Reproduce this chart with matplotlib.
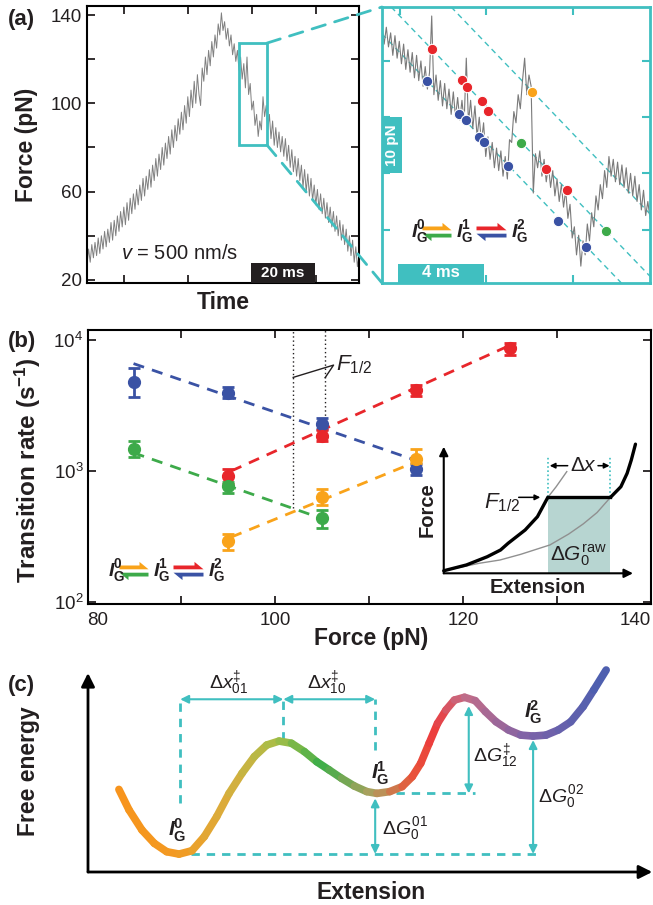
import numpy as np
import matplotlib
matplotlib.use("Agg")
import matplotlib.pyplot as plt
from matplotlib.patches import Rectangle, Polygon, ConnectionPatch
from matplotlib.collections import LineCollection
from matplotlib.colors import LinearSegmentedColormap, Normalize
from matplotlib.ticker import NullLocator

plt.rcParams["font.family"] = ["Liberation Sans", "DejaVu Sans"]
plt.rcParams["mathtext.fontset"] = "custom"
plt.rcParams["mathtext.rm"] = "Liberation Sans"
plt.rcParams["mathtext.sf"] = "Liberation Sans"
plt.rcParams["mathtext.it"] = "Liberation Sans:italic"
plt.rcParams["mathtext.bf"] = "Liberation Sans:bold"
plt.rcParams["mathtext.bfit"] = "Liberation Sans:bold:italic"

# ---------------- data ----------------
# (a) force ramp, one sample every 0.5 ms
ramp_dt = 0.5
ramp_force = [27, 34, 28, 36, 30, 37, 31, 39, 32, 40,
              34, 42, 35, 43, 37, 46, 38, 47, 40, 49,
              42, 51, 44, 53, 45, 55, 47, 57, 50, 59,
              52, 61, 54, 63, 56, 66, 58, 67, 61, 70,
              62, 72, 65, 75, 67, 77, 70, 80, 72, 82,
              75, 85, 77, 88, 80, 90, 83, 93, 86, 96,
              88, 99, 91, 103, 94, 106, 98, 110, 100, 113,
              104, 99, 116, 110, 121, 113, 124, 117, 128, 121,
              131, 125, 136, 131, 141, 133, 137, 129, 134, 126,
              131, 122, 127, 119, 124, 115, 121, 111, 118, 107,
              121, 104, 109, 97, 101, 90, 95, 85, 92, 88,
              103, 94, 99, 88, 95, 84, 92, 81, 89, 80,
              87, 78, 85, 76, 84, 74, 81, 71, 79, 69,
              76, 67, 75, 65, 72, 62, 70, 60, 68, 58,
              66, 56, 63, 54, 61, 52, 59, 50, 57, 48,
              55, 46, 53, 44, 51, 42, 49, 40, 47, 38,
              45, 36, 43, 33, 40, 31, 38, 28, 35, 26,
              31]

# (a) zoomed window, one sample every 0.1 ms
zoom_dt = 0.1
zoom_force = [121.5, 118, 121, 117.5, 120, 116, 119.5, 115.5, 118.5, 114.5,
              118, 113.5, 117, 113, 116.5, 112, 116, 111.5, 115, 110.5,
              114, 110, 113, 123, 109, 112.5, 108, 111.5, 107, 111,
              106.5, 110, 105.5, 109.5, 105, 108.5, 104.5, 108, 104, 115.5,
              104, 108, 103, 107, 101.5, 105, 100.5, 104, 98, 101.5,
              97.5, 100.5, 96, 99.5, 95.5, 99, 94.5, 98, 94, 101,
              100.5, 106, 104, 109, 106.5, 111.5, 115.5, 109, 112.5, 110.5,
              91.5, 98.5, 96, 99, 94.5, 97.5, 93.5, 96.5, 92.5, 95.5,
              91, 94, 90, 93, 89, 92, 87, 89.5, 83.5, 85.5,
              80.5, 84, 78.5, 83, 80.5, 86, 83, 88, 85.5, 91,
              88.5, 93, 90.5, 95.5, 92.5, 98, 94.5, 97.5, 93.5, 97,
              93, 96.5, 92.5, 96, 91.5, 95, 91, 94.5, 90, 93,
              88.5, 92, 87.5, 90, 87]

# transitions marked in the zoom (time ms, force pN)
ev_red_t = [2.30, 3.69, 3.92, 4.61, 4.89, 7.58, 8.55]
ev_red_f = [117.1, 111.6, 110.4, 107.9, 106.1, 95.8, 92.1]
ev_blue_t = [2.07, 3.56, 3.89, 4.51, 4.74, 5.82, 8.15, 9.46]
ev_blue_f = [111.5, 105.5, 104.5, 101.5, 100.5, 96.3, 86.6, 81.9]
ev_orange_t = [6.96]
ev_orange_f = [109.5]
ev_green_t = [6.44, 10.35]
ev_green_f = [100.4, 84.7]

# constant-trap-position guide lines in the zoom
guide_slope = -4.0          # pN/ms
guide_icpt = [137.4, 126.3, 119.8]

# (b) transition rates vs force
blue_F = [85, 95, 105, 115]
blue_k = [4800, 3970, 2300, 1030]
blue_lo = [3700, 3590, 2090, 927]
blue_hi = [6060, 4410, 2540, 1135]

red_F = [95, 105, 115, 125]
red_k = [910, 1860, 4150, 8700]
red_lo = [798, 1690, 3740, 7660]
red_hi = [1036, 2070, 4540, 9490]

green_F = [85, 95, 105]
green_k = [1480, 770, 440]
green_lo = [1280, 676, 366]
green_hi = [1690, 818, 507]

orange_F = [95, 105, 115]
orange_k = [290, 630, 1240]
orange_lo = [248, 549, 1156]
orange_hi = [331, 726, 1459]

# exponential fits (end points)
blue_fit_F, blue_fit_k = [84.9, 114.9], [6600, 1210]
red_fit_F, red_fit_k = [95.3, 124.6], [1000, 8850]
green_fit_F, green_fit_k = [84.9, 104.6], [1377, 443]
orange_fit_F, orange_fit_k = [95.3, 114.9], [313, 1170]

# F1/2 markers
f_half = [101.9, 105.3]
f_half_low = [520, 1970]

# (b) inset: schematic force-extension curve
fold_x = [0.0, 0.12, 0.23, 0.30, 0.34, 0.43, 0.495, 0.55]
fold_y = [0.02, 0.066, 0.131, 0.184, 0.237, 0.342, 0.447, 0.60]
fold_cont_x = [0.55, 0.594, 0.650]
fold_cont_y = [0.60, 0.684, 0.803]
unfold_x = [0.0, 0.187, 0.297, 0.407, 0.561, 0.66, 0.737, 0.81, 0.881]
unfold_y = [0.02, 0.079, 0.105, 0.150, 0.224, 0.31, 0.39, 0.48, 0.60]
unfold_steep_x = [0.881, 0.936, 0.969, 0.991, 1.013]
unfold_steep_y = [0.60, 0.684, 0.79, 0.895, 1.02]
plateau_F = 0.60

# (c) energy landscape (extension, free energy; arbitrary units)
land_x = [5.5, 7.3, 9.6, 11.8, 14.0, 16.2, 18.5, 20.7, 22.9, 25.1, 27.4,
          29.6, 31.8, 34.0, 36.2, 38.5, 40.7, 42.9, 45.1, 47.4, 49.6, 51.4,
          53.7, 55.9, 57.7, 59.2, 60.7, 62.2, 63.7, 65.2, 67.0, 68.9, 70.7,
          72.6, 74.8, 77.0, 79.2, 81.5, 83.7, 85.9, 88.1, 90.0, 92.2]
land_E = [41.5, 31.2, 21.1, 14.4, 10.2, 9.0, 10.7, 17.8, 27.8, 39.5, 49.6,
          58.0, 63.8, 65.8, 64.7, 60.5, 55.4, 51.3, 47.1, 43.2, 40.4, 39.5,
          40.4, 42.9, 47.9, 54.6, 64.7, 74.7, 81.4, 86.4, 87.8, 86.1, 80.6,
          75.5, 71.4, 68.8, 68.3, 68.8, 71.4, 75.5, 83.1, 91.5, 101.5]
land_stop_x = [5.5, 16.0, 25.0, 34.0, 42.0, 51.0, 58.0, 62.0, 67.0, 79.0, 92.2]
land_stop_c = ["#f7941d", "#f39a22", "#d9ae3e", "#a6be48", "#3fae49",
               "#b0a060", "#e8553a", "#ec3b3d", "#c46d86", "#7d62a8", "#4a5fb0"]

CYAN = "#40bfc0"
INK = "#231f20"
C_BLUE, C_RED, C_GREEN, C_ORANGE = "#3a52a4", "#e8262b", "#3daa4a", "#f9a31a"

# ---------------- layout ----------------
W, H = 653, 905
fig = plt.figure(figsize=(W / 100, H / 100), dpi=100)


def rect(l, t, r, b):
    return [l / W, 1 - b / H, (r - l) / W, (b - t) / H]


def ax_pos(r, x, y):
    return ((x / W - r[0]) / r[2], ((1 - y / H) - r[1]) / r[3])


r_a = rect(87, 6, 359, 283)
r_z = rect(382, 7, 650, 283)
r_b = rect(87.5, 330, 651, 604)
r_in = rect(443.75, 446.7, 633, 573.3)
r_c = rect(88, 673, 650, 872)

ax_a = fig.add_axes(r_a)
ax_z = fig.add_axes(r_z)
ax_b = fig.add_axes(r_b)
ax_in = fig.add_axes(r_in)
ax_c = fig.add_axes(r_c)

LBL = dict(fontsize=16.5, fontweight="bold", color=INK)

# ---------------- (a) left ----------------
t_ramp = np.arange(len(ramp_force)) * ramp_dt
ax_a.plot(t_ramp, ramp_force, color="#808080", lw=0.7)
ax_a.set_xlim(0, 85)
ax_a.set_ylim(18.6, 144.1)
ax_a.set_yticks([20, 40, 60, 80, 100, 120, 140])
ax_a.set_yticklabels(["20", "", "60", "", "100", "", "140"])
ax_a.set_xticks([11.6, 31.6, 51.6, 71.6])
ax_a.set_xticklabels([])
ax_a.tick_params(direction="in", length=6, width=1.3, top=True, right=True,
                 labelsize=13.5, pad=3.5, colors=INK)
for s in ax_a.spines.values():
    s.set_linewidth(1.5)
ax_a.set_xlabel("Time", **LBL)
ax_a.xaxis.set_label_coords(*ax_pos(r_a, 223, 302))
ax_a.xaxis.label.set_va("center")
ax_a.set_ylabel("Force (pN)", **LBL)
ax_a.yaxis.set_label_coords(*ax_pos(r_a, 27, 145))
ax_a.yaxis.label.set_va("center")

ax_a.add_patch(Rectangle((47.5, 81.1), 8.75, 46.2, fill=False, ec=CYAN, lw=2, zorder=4))
ax_a.add_patch(Rectangle((51.25, 18.6), 20, 9.1, fc=INK, ec="none", zorder=4))
ax_a.text(61.25, 23.2, "20 ms", color="white", fontsize=11, fontweight="bold",
          ha="center", va="center", zorder=5)
ax_a.text(10.5, 32, r"$v$ = 500 nm/s", fontsize=14.5, color=INK, ha="left", va="center")

for yb, yz in [(127.3, 1), (81.1, 0)]:
    con = ConnectionPatch(xyA=(56.25, yb), coordsA=ax_a.transData,
                          xyB=(0, yz), coordsB=ax_z.transAxes,
                          color=CYAN, lw=2, ls=(0, (5, 3.5)))
    fig.add_artist(con)

# ---------------- (a) zoom ----------------
t_zoom = np.arange(len(zoom_force)) * zoom_dt
ax_z.plot(t_zoom, zoom_force, color="#7a7a7a", lw=0.8, zorder=2)
for c in guide_icpt:
    ax_z.axline((0, c), slope=guide_slope, color=CYAN, lw=1, ls=(0, (4, 3)), zorder=1)
for tt, ff, col in [(ev_red_t, ev_red_f, C_RED), (ev_blue_t, ev_blue_f, C_BLUE),
                    (ev_orange_t, ev_orange_f, C_ORANGE), (ev_green_t, ev_green_f, C_GREEN)]:
    ax_z.plot(tt, ff, "o", ms=7.5, color=col, mec="white", mew=0.8, zorder=4)
ax_z.set_xlim(0, 12.4)
ax_z.set_ylim(75.5, 124.6)
ax_z.set_xticks([0.83, 4.83, 8.83])
ax_z.set_yticks([85, 95, 105, 115])
ax_z.tick_params(direction="in", length=6, width=1.5, colors=CYAN, top=True, right=True,
                 labelleft=False, labelbottom=False)
for s in ax_z.spines.values():
    s.set_color(CYAN)
    s.set_linewidth(2)
ax_z.add_patch(Rectangle((0, 95), 0.93, 10, fc=CYAN, ec="none", zorder=5, clip_on=False))
ax_z.text(0.47, 100, "10 pN", color="white", fontsize=11, fontweight="bold",
          rotation=90, ha="center", va="center", zorder=6)
ax_z.add_patch(Rectangle((0.74, 75.5), 4, 3.4, fc=CYAN, ec="none", zorder=5))
ax_z.text(2.74, 77.3, "4 ms", color="white", fontsize=12, fontweight="bold",
          ha="center", va="center", zorder=6)

# ---------------- (b) ----------------
for F, k, lo, hi, col in [(blue_F, blue_k, blue_lo, blue_hi, C_BLUE),
                          (red_F, red_k, red_lo, red_hi, C_RED),
                          (green_F, green_k, green_lo, green_hi, C_GREEN),
                          (orange_F, orange_k, orange_lo, orange_hi, C_ORANGE)]:
    k = np.array(k)
    yerr = [k - np.array(lo), np.array(hi) - k]
    ax_b.errorbar(F, k, yerr=yerr, fmt="o", color=col, ms=8.5, elinewidth=2,
                  capsize=4, capthick=2, zorder=3)
for fx, fk, col in [(blue_fit_F, blue_fit_k, C_BLUE), (red_fit_F, red_fit_k, C_RED),
                    (green_fit_F, green_fit_k, C_GREEN), (orange_fit_F, orange_fit_k, C_ORANGE)]:
    ax_b.plot(fx, fk, color=col, lw=2, ls=(0, (4, 3)), zorder=2)

b_top = 10 ** 4.076
ax_b.set_xlim(80, 140)
ax_b.set_yscale("log")
ax_b.set_ylim(10 ** 1.985, b_top)
for fh, low in zip(f_half, f_half_low):
    ax_b.plot([fh, fh], [low, b_top], color=INK, ls=(0, (1, 2)), lw=1, zorder=1)
ax_b.plot([101.9, 106.2, 105.3], [5180, 6430, 5150], color=INK, lw=1, zorder=2)
ax_b.text(106.5, 6500, r"$F_{1/2}$", fontsize=16, color=INK, ha="left", va="center")

ax_b.set_xticks(range(80, 141, 10))
ax_b.set_xticklabels(["80", "", "100", "", "120", "", "140"])
ax_b.set_yticks([100, 1000, 10000])
ax_b.yaxis.set_minor_locator(NullLocator())
ax_b.tick_params(direction="in", length=6, width=1.3, top=True, right=True,
                 labelsize=13.5, colors=INK)
ax_b.tick_params(axis="x", pad=6)
ax_b.tick_params(axis="y", pad=3)
xt = ax_b.get_xticklabels()
xt[0].set_ha("left")
xt[-1].set_ha("right")
for s in ax_b.spines.values():
    s.set_linewidth(1.5)
ax_b.set_xlabel("Force (pN)", **LBL)
ax_b.xaxis.set_label_coords(*ax_pos(r_b, 371, 639))
ax_b.xaxis.label.set_va("center")
ax_b.set_ylabel(r"Transition rate (s$^{\mathbf{-1}}$)", fontsize=17.5, fontweight="bold",
                color=INK)
ax_b.yaxis.set_label_coords(*ax_pos(r_b, 28, 470))
ax_b.yaxis.label.set_va("center")

# inset
ax_in.set_xlim(0, 1)
ax_in.set_ylim(0, 1)
ax_in.axis("off")
ax_in.fill_between([fold_x[-1], unfold_x[-1]], 0, plateau_F, color="#b7d5d1", lw=0, zorder=1)
ax_in.plot(unfold_x, unfold_y, color="#909090", lw=1, zorder=2, clip_on=False)
ax_in.plot(fold_cont_x, fold_cont_y, color="#909090", lw=1, zorder=2, clip_on=False)
ax_in.plot(fold_x, fold_y, color="black", lw=2.4, zorder=3, clip_on=False,
           solid_capstyle="round")
ax_in.plot([fold_x[-1], unfold_x[-1]], [plateau_F, plateau_F], color="black", lw=2.4, zorder=3)
ax_in.plot(unfold_steep_x, unfold_steep_y, color="black", lw=2.4, zorder=3, clip_on=False,
           solid_capstyle="round")
for xv in [fold_x[-1], unfold_x[-1]]:
    ax_in.plot([xv, xv], [plateau_F, 0.93], color=CYAN, ls=(0, (1, 1.5)), lw=1.2, clip_on=False)
arr = dict(arrowstyle="-|>", lw=1.5, color="black", mutation_scale=13, shrinkA=0, shrinkB=0)
ax_in.annotate("", xy=(0, 1.0), xytext=(0, 0), xycoords="axes fraction", arrowprops=arr)
ax_in.annotate("", xy=(1.0, 0), xytext=(0, 0), xycoords="axes fraction", arrowprops=arr)
sm = dict(arrowstyle="-|>", lw=1.1, color="black", mutation_scale=8, shrinkA=0, shrinkB=0)
ax_in.annotate("", xy=(0.56, 0.85), xytext=(0.655, 0.85), arrowprops=sm)
ax_in.annotate("", xy=(0.876, 0.85), xytext=(0.815, 0.85), arrowprops=sm)
ax_in.text(0.737, 0.85, r"$\Delta x$", fontsize=15, color=INK, ha="center", va="center")
ax_in.annotate("", xy=(0.51, plateau_F), xytext=(0.396, plateau_F), arrowprops=sm)
ax_in.text(0.215, 0.56, r"$F_{1/2}$", fontsize=16, color=INK, ha="left", va="center")
ax_in.text(0.56, 0.14, r"$\Delta G_0^{\mathrm{raw}}$", fontsize=15, color=INK,
           ha="left", va="center")
ax_in.text(-0.09, 0.5, "Force", rotation=90, fontsize=14.5, fontweight="bold", color=INK,
           ha="center", va="center", transform=ax_in.transAxes)
ax_in.text(0.494, -0.11, "Extension", fontsize=14.5, fontweight="bold", color=INK,
           ha="center", va="center", transform=ax_in.transAxes)

# ---------------- (c) ----------------
ax_c.set_xlim(0, 100)
ax_c.set_ylim(0, 100)
ax_c.axis("off")
big = dict(arrowstyle="-|>", lw=2, color="black", mutation_scale=20, shrinkA=0, shrinkB=0)
ax_c.annotate("", xy=(0, 1.0), xytext=(0, 0), xycoords="axes fraction", arrowprops=big)
ax_c.annotate("", xy=(1.004, 0), xytext=(0, 0), xycoords="axes fraction", arrowprops=big)

pts = np.column_stack([land_x, land_E])
segs = np.stack([pts[:-1], pts[1:]], axis=1)
mid = (pts[:-1, 0] + pts[1:, 0]) / 2
norm = Normalize(land_stop_x[0], land_stop_x[-1])
cmap = LinearSegmentedColormap.from_list(
    "land", list(zip([norm(v) for v in land_stop_x], land_stop_c)))
lc = LineCollection(segs, colors=cmap(norm(mid)), linewidths=5.5,
                    capstyle="round", joinstyle="round", zorder=3, clip_on=False)
ax_c.add_collection(lc)

dash = dict(color=CYAN, lw=2, ls=(0, (3, 2.5)), zorder=2, clip_on=False)
ax_c.plot([18.3, 80.7], [9.05, 9.05], **dash)
ax_c.plot([54.8, 68.9], [39.5, 39.5], **dash)
ax_c.plot([16.4, 16.4], [34.5, 86.8], **dash)
ax_c.plot([34.75, 34.75], [66.3, 86.8], **dash)
ax_c.plot([51.1, 51.1], [61.3, 86.8], **dash)
dbl = dict(arrowstyle="<|-|>", lw=1.5, color=CYAN, mutation_scale=12, shrinkA=0, shrinkB=0)
ax_c.annotate("", xy=(16.4, 86.8), xytext=(34.75, 86.8), arrowprops=dbl)
ax_c.annotate("", xy=(34.75, 86.8), xytext=(51.1, 86.8), arrowprops=dbl)
ax_c.annotate("", xy=(51.1, 9.05), xytext=(51.1, 37.0), arrowprops=dbl)
ax_c.annotate("", xy=(67.75, 39.5), xytext=(67.75, 83.4), arrowprops=dbl)
ax_c.annotate("", xy=(79.2, 9.05), xytext=(79.2, 66.3), arrowprops=dbl)

TX = dict(fontsize=14, color=INK, ha="center", va="center")
ax_c.text(25.1, 94.8, r"$\Delta x^{\ddagger}_{01}$", **TX)
ax_c.text(42.5, 94.8, r"$\Delta x^{\ddagger}_{10}$", **TX)
ax_c.text(56.4, 21.9, r"$\Delta G^{01}_{0}$", **TX)
ax_c.text(72.4, 58.0, r"$\Delta G^{\ddagger}_{12}$", **TX)
ax_c.text(84.2, 37.8, r"$\Delta G^{02}_{0}$", **TX)
IS = dict(fontsize=15, color=INK, ha="center", va="center")
ax_c.text(15.9, 21.1, r"$\mathbfit{I}^{\mathbf{0}}_{\mathbf{G}}$", **IS)
ax_c.text(52.0, 49.6, r"$\mathbfit{I}^{\mathbf{1}}_{\mathbf{G}}$", **IS)
ax_c.text(79.2, 80.1, r"$\mathbfit{I}^{\mathbf{2}}_{\mathbf{G}}$", **IS)

# ---------------- overlay: panel letters, legends ----------------
ov = fig.add_axes([0, 0, 1, 1])
ov.set_xlim(0, W)
ov.set_ylim(H, 0)
ov.axis("off")
ov.patch.set_alpha(0)

ov.text(21, 20, "(a)", fontsize=16, fontweight="bold", color=INK, ha="center", va="center")
ov.text(22, 341, "(b)", fontsize=16, fontweight="bold", color=INK, ha="center", va="center")
ov.text(21, 685, "(c)", fontsize=16, fontweight="bold", color=INK, ha="center", va="center")
ov.text(28, 771, "Free energy", rotation=90, ha="center", va="center", **LBL)
ov.text(371, 892, "Extension", ha="center", va="center", **LBL)


def harpoons(x0, x1, yc, c_top, c_bot):
    yt, yb = yc - 3.6, yc + 3.6
    top = [(x0, yt - 1.9), (x1 - 9, yt - 1.9), (x1 - 9, yt - 5.5), (x1, yt + 1.9), (x0, yt + 1.9)]
    bot = [(x1, yb - 1.9), (x0, yb - 1.9), (x0 + 9, yb + 5.5), (x0 + 9, yb + 1.9), (x1, yb + 1.9)]
    ov.add_patch(Polygon(top, closed=True, fc=c_top, ec="none"))
    ov.add_patch(Polygon(bot, closed=True, fc=c_bot, ec="none"))


def scheme(x, y):
    for i, dx in enumerate([0, 45, 100]):
        ov.text(x + dx, y, r"$\mathbfit{I}^{\mathbf{%d}}_{\mathbf{G}}$" % i,
                fontsize=14, color=INK, ha="left", va="center")
    harpoons(x + 11.5, x + 40.5, y, C_ORANGE, C_GREEN)
    harpoons(x + 65.5, x + 95.5, y, C_RED, C_BLUE)


scheme(411, 232)
scheme(108, 571)

fig.savefig("out.png", dpi=100)
